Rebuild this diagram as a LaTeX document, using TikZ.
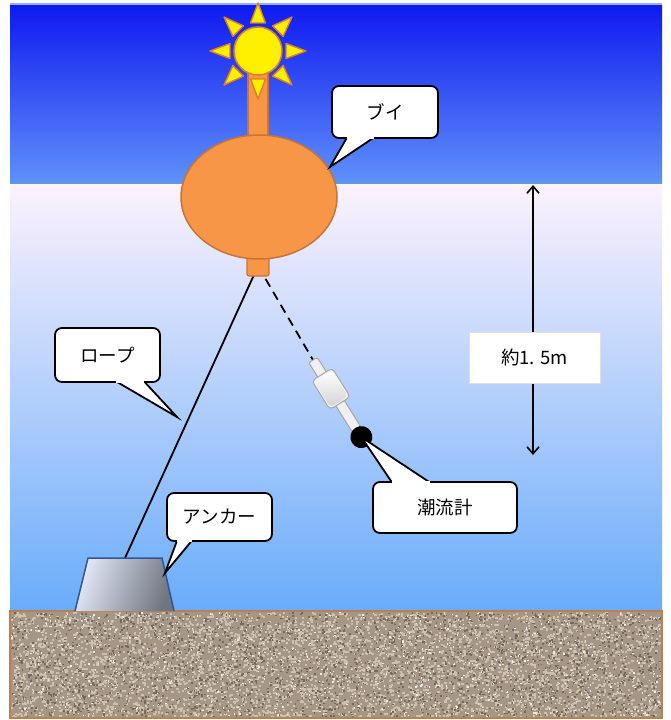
\documentclass[tikz,border=0pt]{standalone}
\usepackage{fontspec}
\newfontfamily\jp{Noto Sans CJK JP}
\usetikzlibrary{calc,arrows.meta}

\definecolor{skytop}{RGB}{15,25,240}
\definecolor{skybot}{RGB}{95,145,250}
\definecolor{watertop}{RGB}{252,242,252}
\definecolor{waterbot}{RGB}{105,172,250}
\definecolor{surface}{RGB}{95,155,215}
\definecolor{buoyfill}{RGB}{247,150,70}
\definecolor{buoyline}{RGB}{200,115,55}
\definecolor{sunfill}{RGB}{255,240,0}
\definecolor{sunline}{RGB}{225,125,35}
\definecolor{sand}{RGB}{165,150,134}
\definecolor{sandlight}{RGB}{205,194,178}
\definecolor{sanddark}{RGB}{118,104,90}
\definecolor{sandedge}{RGB}{188,128,78}
\definecolor{anchorline}{RGB}{50,85,150}
\definecolor{anchorlight}{RGB}{226,232,246}
\definecolor{anchordark}{RGB}{110,118,128}

\tikzset{
  bubble/.style={draw=black, line width=1.8pt, fill=white, rounded corners=7pt,
    font=\jp\fontsize{18.5}{20}\selectfont, inner sep=0pt},
  tailside/.style={draw=black, line width=1.8pt, line join=miter},
  sunray/.style={fill=sunfill, draw=sunline, line width=1.4pt, line join=round},
  meterpart/.style={fill=gray!12, draw=gray!70, line width=1pt, rounded corners=2pt},
}

% callout tail: #1 = first base point, #2 = tip, #3 = second base point,
% #4 = small shift pointing into the box (covers the border seam)
\newcommand\calltail[4]{%
  \fill[white] ($(#1)+#4$) -- (#2) -- ($(#3)+#4$) -- cycle;
  \draw[tailside] ($(#1)+#4$) -- (#2) -- ($(#3)+#4$);
  \fill[white] ($(#1)+#4+#4$) -- ($(#1)+(0,0)$) -- ($(#3)+(0,0)$) -- ($(#3)+#4+#4$) -- cycle;
}

\begin{document}
\begin{tikzpicture}[x=1pt,y=-1pt]
\useasboundingbox (0,0) rectangle (670,720);
\fill[white] (0,0) rectangle (670,720);

% sky and water
\shade[top color=skytop, bottom color=skybot] (10,4) rectangle (662,183);
\draw[skybot!70!white, line width=1.5pt] (10,4) -- (662,4);
\shade[top color=watertop, bottom color=waterbot] (10,183) rectangle (662,611);
\draw[surface, line width=2pt] (10,183) -- (662,183);

% sea bed: grainy sand
\fill[sand] (10,611) rectangle (662,718);
\pgfmathsetseed{11}
\foreach \i in {1,...,4200}{%
  \pgfmathsetmacro\px{11+rnd*649}\pgfmathsetmacro\py{612+rnd*104}%
  \fill[sandlight] (\px,\py) rectangle ++(2.2,2);}
\foreach \i in {1,...,2600}{%
  \pgfmathsetmacro\px{11+rnd*649}\pgfmathsetmacro\py{612+rnd*104}%
  \fill[sanddark] (\px,\py) rectangle ++(1.6,1.6);}
\foreach \i in {1,...,900}{%
  \pgfmathsetmacro\px{11+rnd*649}\pgfmathsetmacro\py{612+rnd*104}%
  \fill[white!80!sand] (\px,\py) rectangle ++(1.3,1.3);}
\draw[sandedge, line width=2pt] (10,611) rectangle (662,718);

% key points
\coordinate (knob) at (258,266);
\coordinate (anchortop) at (125,558);
\coordinate (metertop) at (313,360);

% rope and meter line
\draw[black, line width=1.8pt] (knob) -- (anchortop);
\draw[black, line width=1.8pt, dash pattern=on 9pt off 6pt] (knob) -- (metertop);

% buoy with pole and sun
\draw[fill=buoyfill, draw=buoyline, line width=1.2pt, rounded corners=2pt]
  (247,250) rectangle (269,276);
\draw[fill=buoyfill, draw=buoyline, line width=1.4pt] (248,60) rectangle (268,160);
\draw[fill=buoyfill, draw=buoyline, line width=1.5pt] (259,197) ellipse [x radius=78, y radius=62];
\coordinate (sunc) at (258,51);
\foreach \a in {0,45,...,315}{%
  \draw[sunray] ($(sunc)+(\a-15:29)$) -- ($(sunc)+(\a:48)$) -- ($(sunc)+(\a+15:29)$) -- cycle;}
\draw[fill=sunfill, draw=sunline, line width=1.5pt] (sunc) circle (24);

% current meter, drawn along its own axis
\begin{scope}[shift={(metertop)}, rotate=-57.9]
  \draw[meterpart] (0,-5) rectangle (20,5);
  \draw[meterpart] (48,-5) rectangle (84,5);
  \draw[meterpart, rounded corners=4pt, fill=gray!8] (17,-12) rectangle (51,12);
  \shade[top color=white, bottom color=gray!35, rounded corners=4pt] (18.5,-10.5) rectangle (49.5,10.5);
  \fill[black] (91,0) circle (11);
  \coordinate (ball) at (91,0);
\end{scope}

% anchor block
\shade[left color=anchorlight, right color=anchordark, shading angle=70]
  (75,611) -- (88,558) -- (162,558) -- (174,611) -- cycle;
\draw[anchorline, line width=1.5pt] (75,611) -- (88,558) -- (162,558) -- (174,611);

% callouts
\node[bubble, minimum width=106pt, minimum height=52pt] (lbuoy) at (385,112) {ブイ};
\calltail{$(lbuoy.south west)+(16,0)$}{330,167}{$(lbuoy.south west)+(43,0)$}{(0,-1.5)}

\node[bubble, minimum width=105pt, minimum height=54pt] (lrope) at (107.5,355) {ロープ};
\calltail{$(lrope.south west)+(62,0)$}{177,417}{$(lrope.south west)+(90,0)$}{(0,-1.5)}

\node[bubble, minimum width=105pt, minimum height=48pt] (lanchor) at (219.5,517) {アンカー};
\calltail{$(lanchor.south west)+(11,0)$}{165,573}{$(lanchor.south west)+(26,0)$}{(0,-1.5)}

\node[bubble, minimum width=144pt, minimum height=51pt] (lmeter) at (445,507.5) {潮流計};
\calltail{$(lmeter.north west)+(20,0)$}{ball}{$(lmeter.north west)+(58,0)$}{(0,1.5)}

% depth dimension
\coordinate (dimtop) at (533,185);
\coordinate (dimbot) at (533,455);
\draw[line width=1.6pt, {Straight Barb[length=7pt,width=12pt]}-{Straight Barb[length=7pt,width=12pt]}] (dimtop) -- (dimbot);
\node[fill=white, draw=gray!25, line width=0.6pt, minimum width=131pt, minimum height=51pt,
  font=\jp\fontsize{18.5}{20}\selectfont] (ldepth) at (534.5,357.5) {約1. 5m};
\end{tikzpicture}
\end{document}
